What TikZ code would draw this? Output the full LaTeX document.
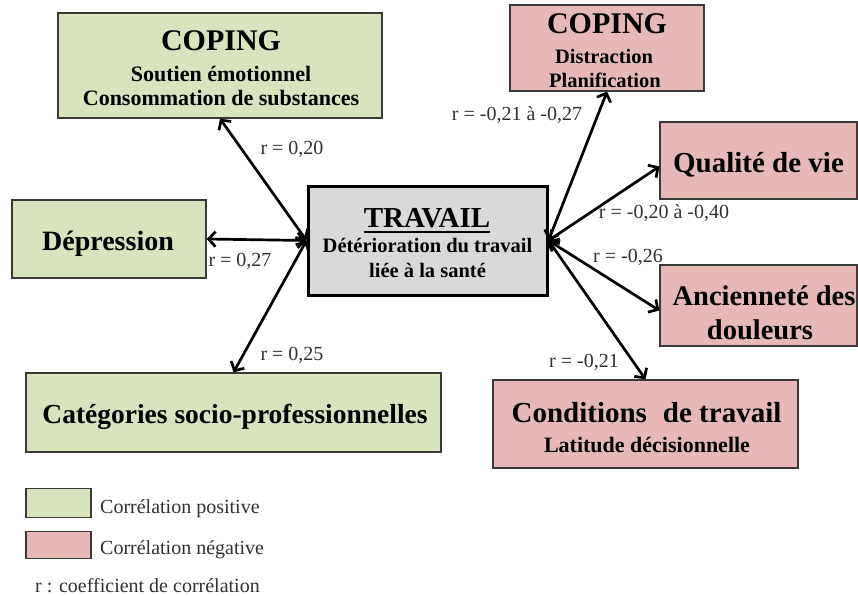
\documentclass[tikz,border=0pt]{standalone}
\usepackage{fontspec}
\setmainfont{Liberation Serif}
\usetikzlibrary{arrows.meta}
\definecolor{posgreen}{HTML}{D7E4BD}
\definecolor{negred}{HTML}{E6B9B8}
\definecolor{travgray}{HTML}{D9D9D9}
\definecolor{edgegray}{HTML}{3A3A3A}
\definecolor{labgray}{HTML}{303030}
\begin{document}
\begin{tikzpicture}[x=1pt,y=-1pt,
  box/.style={draw=edgegray, line width=1.3pt, inner sep=0pt},
  posbox/.style={box, fill=posgreen},
  negbox/.style={box, fill=negred},
  big/.style={inner sep=0pt, anchor=base, font=\fontsize{30}{33}\selectfont\bfseries},
  mid/.style={inner sep=0pt, anchor=base, font=\fontsize{28.5}{33}\selectfont\bfseries},
  sub/.style={inner sep=0pt, anchor=base, font=\fontsize{22}{25}\selectfont\bfseries},
  smallsub/.style={inner sep=0pt, anchor=base, font=\fontsize{20.5}{23}\selectfont\bfseries},
  trsub/.style={inner sep=0pt, anchor=base, font=\fontsize{20.5}{23}\selectfont\bfseries},
  link/.style={line width=2.7pt, {Straight Barb[length=7pt,width=15pt,line width=2.7pt]}-{Straight Barb[length=7pt,width=15pt,line width=2.7pt]}},
  lab/.style={text=labgray, font=\fontsize{20}{22}\selectfont, inner sep=0pt, anchor=base},
  legtext/.style={text=labgray, font=\fontsize{20}{22}\selectfont, inner sep=0pt, anchor=base west}]
\useasboundingbox (0,0) rectangle (858,596);

% boxes
\node[posbox, minimum width=324pt, minimum height=105pt] (cg) at (220,65.5) {};
\node[posbox, minimum width=194pt, minimum height=78pt] (dep) at (109,239) {};
\node[draw=black, line width=3pt, fill=travgray, inner sep=0pt,
  minimum width=239pt, minimum height=109pt] (trav) at (427.5,240.5) {};
\node[posbox, minimum width=415pt, minimum height=79pt] (cat) at (233.5,412.5) {};
\node[negbox, minimum width=194pt, minimum height=86pt] (cr) at (607,48) {};
\node[negbox, minimum width=197pt, minimum height=77pt] (qv) at (758.5,160.5) {};
\node[negbox, minimum width=197pt, minimum height=81pt] (anc) at (758.5,305.5) {};
\node[negbox, minimum width=305pt, minimum height=88pt] (cond) at (645.5,424) {};

% texts
\node[big] (cg1) at (221,51) {COPING};
\node[sub] (cg2) at (221,82) {Soutien émotionnel};
\node[sub] (cg3) at (221,106) {Consommation de substances};
\node[mid, font=\fontsize{28}{32}\selectfont\bfseries] (dep1) at (108,250) {Dépression};
\node[big, font=\fontsize{29}{32}\selectfont\bfseries] (tr1) at (427,227) {TRAVAIL};
\draw[line width=2pt] ([yshift=-5pt]tr1.base west) -- ([yshift=-5pt]tr1.base east);
\node[trsub] (tr2) at (427.5,252) {Détérioration du travail};
\node[trsub] (tr3) at (427.5,277) {liée à la santé};
\node[mid, font=\fontsize{27.5}{31}\selectfont\bfseries] (cat1) at (235,423) {Catégories socio-professionnelles};
\node[big] (cr1) at (607,34) {COPING};
\node[smallsub] (cr2) at (604,64) {Distraction};
\node[smallsub] (cr3) at (605,88) {Planification};
\node[mid, font=\fontsize{29}{33}\selectfont\bfseries] (qv1) at (758.5,172) {Qualité de vie};
\node[mid] (anc1) at (764,305) {Ancienneté des};
\node[mid] (anc2) at (760,339) {douleurs};
\node[mid, font=\fontsize{29}{33}\selectfont\bfseries] (cd1) at (646.5,422) {Conditions\hspace{0.3em} de travail};
\node[sub] (cd2) at (647,452) {Latitude décisionnelle};

% connectors
\draw[link] (trav.west) -- (cg.south);
\draw[link] (trav.west) -- (dep.east);
\draw[link] (trav.west) -- (cat.north);
\draw[link] (trav.east) -- (cr.south);
\draw[link] (trav.east) -- ([yshift=-6pt]qv.west);
\draw[link] (trav.east) -- ([yshift=-5pt]anc.west);
\draw[link] (trav.east) -- (cond.north);

% labels
\node[lab] (l1) at (292,154) {r = 0,20};
\node[lab] (l2) at (240,266) {r = 0,27};
\node[lab] (l3) at (292,360) {r = 0,25};
\node[lab] (l4) at (517,121) {r = -0,21 à -0,27};
\node[lab] (l5) at (664,218) {r = -0,20 à -0,40};
\node[lab] (l6) at (628,262) {r = -0,26};
\node[lab] (l7) at (584,367) {r = -0,21};

% legend
\node[posbox, minimum width=65pt, minimum height=29pt] (lgp) at (58.5,503) {};
\node[negbox, minimum width=65pt, minimum height=27pt] (lgn) at (58.5,545) {};
\node[legtext] (lgpt) at (100,513) {Corrélation positive};
\node[legtext] (lgnt) at (100,554) {Corrélation négative};
\node[legtext] (lgr) at (35,592) {r : coefficient de corrélation};
\end{tikzpicture}
\end{document}
